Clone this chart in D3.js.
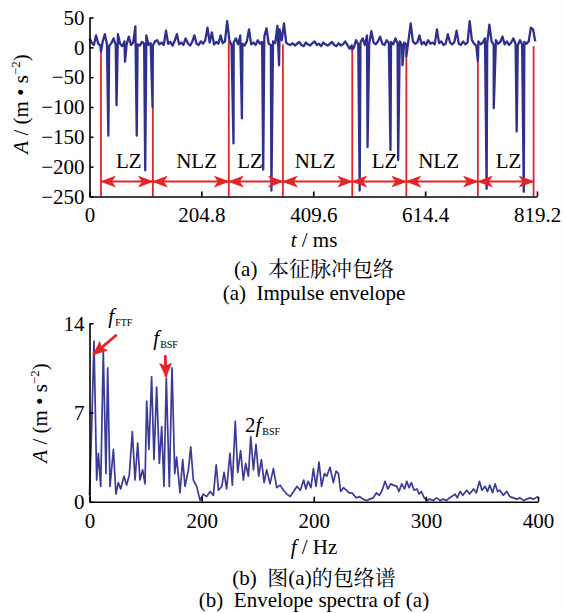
<!DOCTYPE html>
<html>
<head>
<meta charset="utf-8">
<script src="https://cdn.jsdelivr.net/npm/d3@7"></script>
<style>
  body { margin: 0; background: #fdfdfd; }
</style>
</head>
<body>
<div id="chart"></div>
<script>
// ---- data: (a) impulse envelope ----
var sigStep = 4; // ms between baseline samples
var sigBase = [
  15, 8, 4, 20, 6, 3, 9, 22, 5, 2,
  7, 15, 4, 22, 6, 2, 10, 5, 18, 4,
  8, 35, 5, 3, 9, 6, 20, 4, 7, 3,
  10, 12, 5, 8, 4, 28, 6, 9, 3, 11,
  22, 5, 8, 4, 15, 7, 3, 9, 20, 6,
  4, 10, 6, 12, 33, 8, 25, 5, 9, 6,
  20, 7, 10, 44, 12, 4, 8, 15, 5, 20,
  6, 3, 10, 30, 5, 8, 4, 12, 6, 9,
  18, 32, 6, 4, 10, 7, 36, 30, 12, 40,
  8, 5, 4, 7, 3, 6, 9, 4, 2, 8,
  5, 3, 7, 10, 4, 6, 2, 8, 5, 3,
  6, 9, 4, 2, 7, 3, 5, 10, 4, -2,
  3, 0, 12, 5, 8, 15, 4, 20, 6, 27,
  8, 5, 10, 18, 6, 4, 12, 7, 9, 5,
  15, 6, 10, 4, 8, 5, 12, 40, 10, 6,
  8, 20, 5, 9, 4, 12, 6, 8, 5, 30,
  7, 10, 4, 6, 22, 8, 5, 9, 28, 6,
  4, 10, 5, 8, 44, 12, 6, 3, 10, 5,
  8, 15, 6, 38, 10, 4, 12, 6, 9, 18,
  5, 10, 4, 8, 15, 6, 3, 12, 5, 9,
  6, 10, 33, 30, 10
];
// sharp impulses [t ms, A]
var sigDips = [
  [21, -7], [34.5, -148], [49.5, -97], [65, -24], [86.5, -148], [102, -206], [115.5, -100],
  [263.6, -161], [279, -119], [318, -205], [333, -240], [347, -30],
  [481, -4], [494.6, -240], [509, -167], [551, -172], [565, -189], [573, -30], [580, -15],
  [711, -23], [727, -237], [740, -102], [782, -141], [795, -242]
];
var zoneT = [21, 116, 255, 354, 481, 580, 711, 813];
var zoneTop = [-7, -100, 10, 5, -4, -15, -23, 2];
var zoneLabels = ["LZ", "NLZ", "LZ", "NLZ", "LZ", "NLZ", "LZ"];
var zoneLabelT = [72, 196, 294, 413, 540, 639, 767];
var tTicks = [0, 204.8, 409.6, 614.4, 819.2];
var tTickLabels = ["0", "204.8", "409.6", "614.4", "819.2"];
var aTicks = [50, 0, -50, -100, -150, -200, -250];

// ---- data: (b) envelope spectrum [Hz, A] ----
var spectrum = [
  [0, 0.5], [2, 6], [4, 12.6], [6.4, 1.7], [7.9, 3.8], [10, 1.2], [12.3, 11.8], [14.7, 2.2],
  [16.2, 10.5], [18.3, 1.2], [21.3, 4.1], [23.6, 0.6], [25.7, 1.5], [27.8, 1.0], [30.8, 2.0],
  [33.1, 1.3], [35.5, 2.1], [38.2, 5.5], [40.6, 1.7], [43, 4.6], [45, 1.7], [47.4, 2.5],
  [49.5, 1.4], [51, 7.9], [53, 4.1], [55.4, 9.8], [57.5, 3.3], [59.9, 9.0], [62.3, 3.0],
  [64.4, 5.9], [66.4, 1.2], [68.5, 9.7], [71.2, 1.2], [73.6, 10.5], [76, 2.2], [77.7, 3.5],
  [80.7, 0.7], [83.1, 3.3], [85.2, 1.2], [88.2, 2.5], [90.3, 4.3], [92.6, 1.7], [95.6, 1.2],
  [98.6, 0.1], [101.5, 0.6], [104.5, 0.4], [107.5, 0.8], [110.5, 0.5], [113, 2.9], [115, 0.9],
  [118, 1.2], [120, 2.3], [122.3, 1.0], [125.3, 3.8], [127.4, 1.3], [130, 6.3], [132.2, 2.3],
  [134.8, 4.0], [137.2, 1.7], [139.3, 3.0], [141.7, 2.0], [143.8, 5.1], [146.2, 2.5],
  [148.5, 4.5], [150.9, 2.0], [153.3, 3.3], [155.7, 1.5], [158, 2.5], [161, 1.4], [164, 2.6],
  [167, 1.1], [170, 1.3], [173, 0.9], [176, 0.6], [179, 0.4], [182, 0.8], [185, 1.2],
  [188, 0.9], [191, 1.7], [193, 1.0], [195, 1.6], [197.5, 1.1], [199.7, 2.6], [202, 1.2],
  [204.7, 3.1], [207, 1.2], [209.5, 2.2], [211.6, 2.0], [214.5, 2.7], [217.5, 1.5],
  [219.9, 2.4], [222, 2.2], [224, 0.8], [226.5, 1.1], [229, 0.9], [231.5, 0.7], [234, 0.7],
  [236, 0.5], [238, 0.3], [241, 0.4], [244, 0.2], [247, 0.1], [250, 0.2], [253, 0.3],
  [256, 0.7], [258.5, 0.5], [261, 0.9], [263.6, 1.6], [266, 1.0], [268.6, 1.4], [271, 1.3],
  [274, 1.2], [276, 0.8], [278.5, 1.4], [281, 1.0], [283, 1.6], [285, 1.1], [287, 1.5],
  [289.5, 0.9], [292, 1.0], [294, 0.6], [296, 0.8], [298.5, 0.3], [300.8, 0.1], [303.5, 0.2],
  [306.7, 0.1], [309.5, 0.3], [312.7, 0.1], [315.5, 0.2], [318.6, 0.1], [321, 0.3], [323, 0.4],
  [326, 0.6], [328, 0.3], [330.5, 0.8], [333, 0.5], [336.5, 0.9], [339, 0.6], [342.5, 1.0],
  [345, 0.7], [347.8, 1.6], [350, 0.9], [352.8, 1.2], [355, 0.8], [357, 1.3], [359.5, 0.7],
  [361.7, 1.4], [364, 0.8], [366, 0.9], [369, 0.5], [372, 0.8], [375, 0.4], [378, 0.3],
  [381, 0.2], [384, 0.3], [387, 0.1], [390, 0.2], [393, 0.3], [396, 0.2], [398, 0.3], [400, 0.4]
];
var fTicks = [0, 100, 200, 300, 400];
var fTickLabels = ["0", "200", "200", "300", "400"]; // as printed in the original
var sTicks = [0, 7, 14];
// annotations: label anchor [Hz, A], arrow tail and tip [Hz, A]
var annots = [
  { pre: "", sub: "FTF", at: [16.8, 14.0], tail: [24.3, 13.1], tip: [3.4, 11.55] },
  { pre: "", sub: "BSF", at: [56.9, 12.3], tail: [67.6, 11.5], tip: [68.2, 9.8] },
  { pre: "2", sub: "BSF", at: [138.7, 5.5], tail: null, tip: null }
];

// ---- setup ----
var W = 564, H = 613;
var RED = "#e3252a", BLUE = "#2f308e", INK = "#000";
var FONT = "'Liberation Serif', 'Noto Serif CJK SC', serif";

var svg = d3.select("#chart").append("svg")
  .attr("width", W).attr("height", H)
  .style("display", "block")
  .style("font-family", FONT);
svg.append("rect").attr("width", W).attr("height", H).attr("fill", "#fdfdfd");

var defs = svg.append("defs");
defs.append("marker")
  .attr("id", "head")
  .attr("viewBox", "0 0 16 12")
  .attr("refX", 15).attr("refY", 6)
  .attr("markerWidth", 16).attr("markerHeight", 12)
  .attr("markerUnits", "userSpaceOnUse")
  .attr("orient", "auto-start-reverse")
  .append("path").attr("d", "M0,0 L16,6 L0,12 L4,6 Z").attr("fill", RED);
defs.append("marker")
  .attr("id", "head2")
  .attr("viewBox", "0 0 15 13")
  .attr("refX", 14).attr("refY", 6.5)
  .attr("markerWidth", 15).attr("markerHeight", 13)
  .attr("markerUnits", "userSpaceOnUse")
  .attr("orient", "auto")
  .append("path").attr("d", "M0,0 L15,6.5 L0,13 L3,6.5 Z").attr("fill", RED);

function styleAxis(g) {
  g.attr("font-family", null).attr("font-size", null);
  g.select(".domain").attr("stroke", INK).attr("stroke-width", 1.6);
  g.selectAll(".tick line").attr("stroke", INK).attr("stroke-width", 1.6);
  g.selectAll(".tick text").attr("fill", INK)
    .style("font-family", FONT)
    .style("font-size", "21px");
}

function ampTitle(x, y) {
  var t = svg.append("text")
    .attr("transform", "translate(" + x + "," + y + ") rotate(-90)")
    .attr("text-anchor", "middle")
    .style("font-size", "21px")
    .attr("fill", INK);
  t.append("tspan").style("font-style", "italic").text("A");
  t.append("tspan").text(" / (m \u2022 s");
  t.append("tspan").style("font-size", "13px").attr("dy", -8).text("\u22122");
  t.append("tspan").attr("dy", 8).text(")");
}

function caption(y, txt) {
  svg.append("text")
    .attr("x", 314).attr("y", y)
    .attr("text-anchor", "middle")
    .style("font-size", "21px")
    .style("white-space", "pre")
    .attr("fill", INK)
    .text(txt);
}

// ---- (a) impulse envelope ----
var xT = d3.scaleLinear().domain([0, 819.2]).range([89.5, 537]);
var yT = d3.scaleLinear().domain([-250, 50]).range([196.5, 17.5]);

var signal = sigBase.map(function (v, i) { return [i * sigStep, v]; })
  .concat(sigDips)
  .sort(function (a, b) { return a[0] - b[0]; });

var gA = svg.append("g");

// zone boundaries
gA.selectAll(".zone")
  .data(zoneT)
  .enter().append("line")
    .attr("x1", function (d) { return xT(d); })
    .attr("x2", function (d) { return xT(d); })
    .attr("y1", yT(-250))
    .attr("y2", function (d, i) { return yT(zoneTop[i]); })
    .attr("stroke", RED)
    .attr("stroke-width", 1.8);

var line = d3.line()
  .x(function (d) { return xT(d[0]); })
  .y(function (d) { return yT(d[1]); });

gA.append("path")
  .datum(signal)
  .attr("d", line)
  .attr("fill", "none")
  .attr("stroke", BLUE)
  .attr("stroke-width", 2.3)
  .attr("stroke-linejoin", "round");

// double arrows between boundaries
gA.selectAll(".span")
  .data(zoneLabels)
  .enter().append("line")
    .attr("x1", function (d, i) { return xT(zoneT[i]); })
    .attr("x2", function (d, i) { return xT(zoneT[i + 1]); })
    .attr("y1", yT(-225))
    .attr("y2", yT(-225))
    .attr("stroke", RED)
    .attr("stroke-width", 2)
    .attr("marker-start", "url(#head)")
    .attr("marker-end", "url(#head)");

gA.selectAll(".zlabel")
  .data(zoneLabels)
  .enter().append("text")
    .attr("x", function (d, i) { return xT(zoneLabelT[i]); })
    .attr("y", yT(-202))
    .attr("text-anchor", "middle")
    .style("font-size", "21px")
    .attr("fill", INK)
    .text(function (d) { return d; });

gA.append("g")
  .attr("transform", "translate(0," + yT(-250) + ")")
  .call(d3.axisBottom(xT).tickValues(tTicks)
    .tickFormat(function (d, i) { return tTickLabels[i]; })
    .tickSize(-5).tickSizeOuter(0).tickPadding(11))
  .call(styleAxis);

gA.append("g")
  .attr("transform", "translate(" + xT(0) + ",0)")
  .call(d3.axisLeft(yT).tickValues(aTicks).tickSize(-4).tickSizeOuter(0).tickPadding(5))
  .call(styleAxis);

ampTitle(28, 104);

var tt = svg.append("text").attr("x", 314).attr("y", 247)
  .attr("text-anchor", "middle").style("font-size", "21px").attr("fill", INK);
tt.append("tspan").style("font-style", "italic").text("t");
tt.append("tspan").text(" / ms");

caption(276, "(a)  本征脉冲包络");
caption(300, "(a)  Impulse envelope");

// ---- (b) envelope spectrum ----
var xB = d3.scaleLinear().domain([0, 400]).range([89.5, 538]);
var yB = d3.scaleLinear().domain([0, 14]).range([501.7, 323.3]);

var gB = svg.append("g");

gB.append("path")
  .datum(spectrum)
  .attr("d", d3.line()
    .x(function (d) { return xB(d[0]); })
    .y(function (d) { return yB(d[1]); }))
  .attr("fill", "none")
  .attr("stroke", "#3a3b96")
  .attr("stroke-width", 1.7)
  .attr("stroke-linejoin", "round");

gB.append("g")
  .attr("transform", "translate(0," + yB(0) + ")")
  .call(d3.axisBottom(xB).tickValues(fTicks)
    .tickFormat(function (d, i) { return fTickLabels[i]; })
    .tickSize(-5).tickSizeOuter(0).tickPadding(11))
  .call(styleAxis);

gB.append("g")
  .attr("transform", "translate(" + xB(0) + ",0)")
  .call(d3.axisLeft(yB).tickValues(sTicks).tickSize(-4).tickSizeOuter(0).tickPadding(5))
  .call(styleAxis);

annots.forEach(function (a) {
  var t = gB.append("text")
    .attr("x", xB(a.at[0])).attr("y", yB(a.at[1]))
    .style("font-size", "21px").attr("fill", INK);
  if (a.pre) t.append("tspan").text(a.pre);
  t.append("tspan").style("font-style", "italic").text("f");
  t.append("tspan").style("font-size", "10px").attr("dx", 1).attr("dy", 3).text(a.sub);
  if (a.tail) {
    gB.append("line")
      .attr("x1", xB(a.tail[0])).attr("y1", yB(a.tail[1]))
      .attr("x2", xB(a.tip[0])).attr("y2", yB(a.tip[1]))
      .attr("stroke", RED).attr("stroke-width", 2.8)
      .attr("marker-end", "url(#head2)");
  }
});

ampTitle(47, 413);

var ft = svg.append("text").attr("x", 314).attr("y", 554)
  .attr("text-anchor", "middle").style("font-size", "21px").attr("fill", INK);
ft.append("tspan").style("font-style", "italic").text("f");
ft.append("tspan").text(" / Hz");

caption(585, "(b)  图(a)的包络谱");
caption(607, "(b)  Envelope spectra of (a)");
</script>
</body>
</html>
